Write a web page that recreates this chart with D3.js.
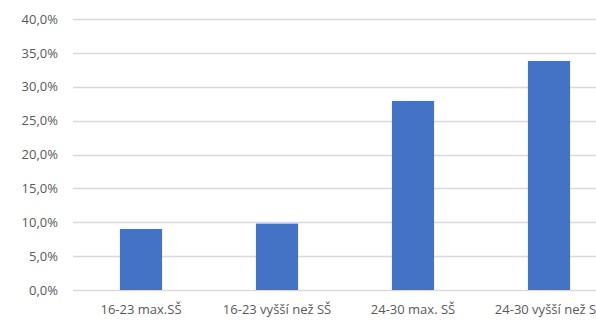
<!DOCTYPE html>
<html>
<head>
<meta charset="utf-8">
<script src="https://cdn.jsdelivr.net/npm/d3@7"></script>
<style>
  html, body { margin: 0; padding: 0; background: #fff; }
  svg { display: block; }
</style>
</head>
<body>
<svg id="chart" width="596" height="320"></svg>
<script>
// Share of respondents by age group and education
const categories = ["16-23 max.SŠ", "16-23 vyšší než SŠ", "24-30 max. SŠ", "24-30 vyšší než SŠ"];
const values = [0.090, 0.098, 0.279, 0.338];
const yTicks = [0, 0.05, 0.10, 0.15, 0.20, 0.25, 0.30, 0.35, 0.40];

const svg = d3.select("#chart");
const W = 596;
const plotLeft = 73, plotRight = 617, plotTop = 19, plotBottom = 290;

const x = d3.scaleBand()
  .domain(categories)
  .range([plotLeft, plotRight])
  .paddingInner(0.69)
  .paddingOuter(0.345);

const y = d3.scaleLinear()
  .domain([0, 0.40])
  .range([plotBottom, plotTop]);

const fmt = v => d3.format(".1f")(v * 100).replace(".", ",") + "%";

// horizontal gridlines
svg.append("g")
  .selectAll("line")
  .data(yTicks)
  .join("line")
  .attr("x1", plotLeft)
  .attr("x2", W)
  .attr("y1", d => Math.round(y(d)) + 0.5)
  .attr("y2", d => Math.round(y(d)) + 0.5)
  .attr("stroke", "#d9d9d9")
  .attr("stroke-width", 1.3);

// y axis labels
const yAxis = d3.axisLeft(y).tickValues(yTicks).tickFormat(fmt).tickSize(0).tickPadding(0);
const gy = svg.append("g").attr("transform", `translate(58,0)`).call(yAxis);
gy.select(".domain").remove();
gy.selectAll("text")
  .attr("fill", "#595959")
  .style("font-family", "'Open Sans', sans-serif")
  .style("font-size", "13px");

// bars
svg.append("g")
  .selectAll("rect")
  .data(values)
  .join("rect")
  .attr("x", (d, i) => x(categories[i]))
  .attr("y", d => y(d))
  .attr("width", x.bandwidth())
  .attr("height", d => y(0) - y(d))
  .attr("fill", "#4472c4");

// x axis labels
const xAxis = d3.axisBottom(x).tickSize(0).tickPadding(0);
const gx = svg.append("g").attr("transform", `translate(0,${plotBottom + 15})`).call(xAxis);
gx.select(".domain").remove();
gx.selectAll("text")
  .attr("fill", "#595959")
  .style("font-family", "'Open Sans', sans-serif")
  .style("font-size", "13px");
</script>
</body>
</html>
